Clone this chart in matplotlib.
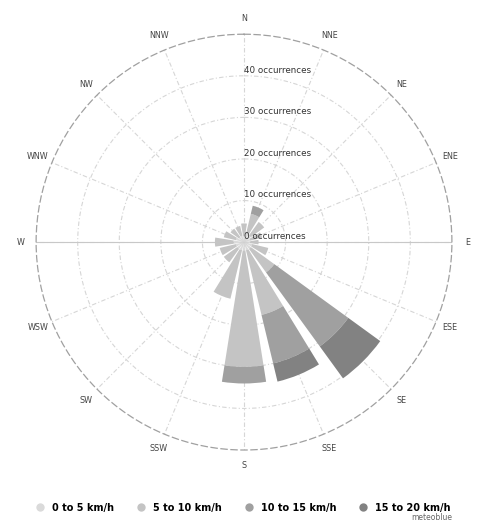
import numpy as np
import matplotlib.pyplot as plt
from matplotlib.lines import Line2D

# wind directions and occurrences per speed class
directions = ['N', 'NNE', 'NE', 'ENE', 'E', 'ESE', 'SE', 'SSE',
              'S', 'SSW', 'SW', 'WSW', 'W', 'WNW', 'NW', 'NNW']
speed_0_5 = [1.5, 2, 2, 1.5, 1.5, 2, 2, 2, 2, 2, 2, 2, 2.5, 2, 1.5, 1.5]
speed_5_10 = [3, 5, 4, 3, 2, 4, 7, 16, 28, 12, 4, 4, 4.5, 3, 2.5, 2.5]
speed_10_15 = [0, 2, 0, 0, 0, 0, 22, 12, 4, 0, 0, 0, 0, 0, 0, 0]
speed_15_20 = [0, 0, 0, 0, 0, 0, 9.5, 4.5, 0, 0, 0, 0, 0, 0, 0, 0]
series_names = ['0 to 5 km/h', '5 to 10 km/h', '10 to 15 km/h', '15 to 20 km/h']
colors = ['#dadada', '#c4c4c4', '#a0a0a0', '#828282']
ring_values = [0, 10, 20, 30, 40]

fig = plt.figure(figsize=(4.81, 5.29), dpi=100)
ax = fig.add_axes([0.0748, 0.1493, 0.865, 0.786], projection='polar')
ax.set_theta_zero_location('N')
ax.set_theta_direction(-1)

angles = np.deg2rad(np.arange(len(directions)) * 22.5)
width = np.deg2rad(22.5) * 0.8

bottom = np.zeros(len(directions))
for vals, col, name in zip([speed_0_5, speed_5_10, speed_10_15, speed_15_20], colors, series_names):
    vals = np.array(vals)
    ax.bar(angles, vals, width=width, bottom=bottom, color=col, edgecolor='none', zorder=3)
    bottom += vals

ax.set_ylim(0, 50)
ax.set_xticks(angles)
ax.set_xticklabels([])
ax.set_yticks([10, 20, 30, 40])
ax.set_yticklabels([])
ax.grid(True, color='#d6d6d6', linestyle=(0, (4, 2, 1, 2)), linewidth=0.8)
ax.spines['polar'].set_linestyle((0, (5, 3)))
ax.spines['polar'].set_color('#a0a0a0')
ax.spines['polar'].set_linewidth(0.9)

# W-E line drawn a bit stronger
ax.plot([np.pi / 2, np.pi / 2], [0, 50], color='#c8c8c8', lw=0.8, zorder=2)
ax.plot([3 * np.pi / 2, 3 * np.pi / 2], [0, 50], color='#c8c8c8', lw=0.8, zorder=2)

for a, d in zip(angles, directions):
    ax.text(a, 53.7, d, ha='center', va='center', fontsize=5.8, color='#444444')

for v in ring_values:
    ax.text(0, v + 0.3, '%d occurrences' % v, ha='left', va='bottom',
            fontsize=6.3, color='#333333', zorder=5)

handles = [Line2D([], [], marker='o', linestyle='none', markersize=6,
                  markerfacecolor=c, markeredgecolor='none') for c in colors]
fig.legend(handles, series_names, loc='center', bbox_to_anchor=(0.5, 0.04), ncol=4,
           frameon=False, prop={'weight': 'bold', 'size': 7},
           handletextpad=0.2, columnspacing=1.8)
fig.text(0.94, 0.013, 'meteoblue', ha='right', va='bottom', fontsize=5.5, color='#666666')

fig.savefig('out.png', dpi=100)
